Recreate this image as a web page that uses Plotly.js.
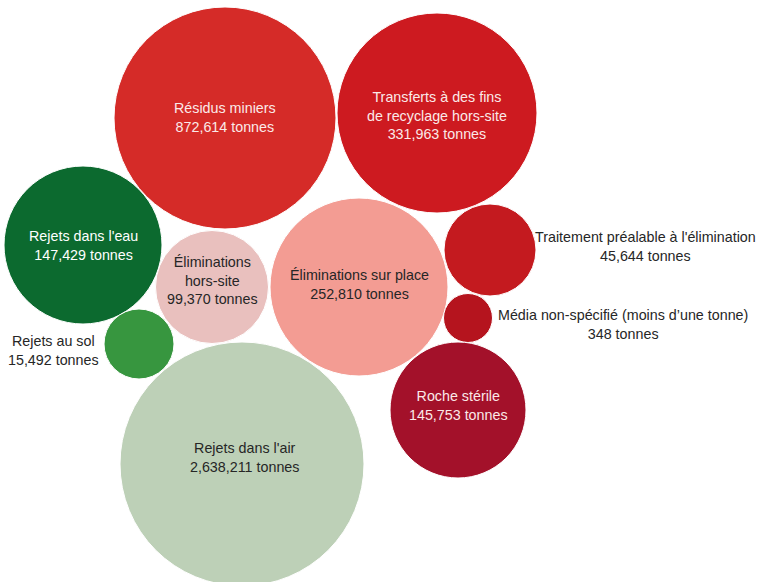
<!DOCTYPE html>
<html>
<head>
<meta charset="utf-8">
<script src="https://cdn.plot.ly/plotly-3.0.1.min.js"></script>
<style>html,body{margin:0;padding:0;background:#fff;}#chart{width:761px;height:582px;}</style>
</head>
<body>
<div id="chart"></div>
<script>
// Data
const labels = [
  "Résidus miniers",
  "Transferts à des fins<br>de recyclage hors-site",
  "Rejets dans l'eau",
  "Éliminations<br>hors-site",
  "Éliminations sur place",
  "Traitement préalable à l'élimination",
  "Média non-spécifié (moins d’une tonne)",
  "Roche stérile",
  "Rejets au sol",
  "Rejets dans l'air"
];
const tonnes = [872614, 331963, 147429, 99370, 252810, 45644, 348, 145753, 15492, 2638211];

// Layout of the bubbles (pixel-like coordinates)
const bubbleX = [225, 437, 83, 212, 359, 490, 468, 458, 139, 242];
const bubbleY = [118, 113, 245, 287, 287, 250, 318, 410, 344, 464];
const bubbleD = [222, 200, 158, 113, 178, 92, 49, 136, 70, 244];
const colors = ["#d52b28", "#cd1a20", "#0c6a2f", "#e9c0be", "#f39c93", "#c41a1f", "#b5141e", "#a3112a", "#37963f", "#bdd0b7"];
const labelX = [225, 437, 83, 212, 359, 645, 623, 458, 53, 244];
const labelY = [117, 115, 245, 280, 284, 246, 324, 405, 350, 457];
const labelColor = ["#fbe9e8", "#fbe9e8", "#ffffff", "#262626", "#262626", "#262626", "#262626", "#fbe9e8", "#262626", "#262626"];

const fmt = v => v.toLocaleString('en-US');

const trace = {
  type: 'scatter',
  mode: 'markers',
  x: bubbleX,
  y: bubbleY,
  marker: {
    size: bubbleD,
    sizemode: 'diameter',
    color: colors,
    opacity: 1,
    line: {color: '#ffffff', width: 1}
  },
  hoverinfo: 'skip',
  cliponaxis: false
};

const annotations = labels.map((l, i) => ({
  x: labelX[i],
  y: labelY[i],
  xref: 'x', yref: 'y',
  text: l + '<br>' + fmt(tonnes[i]) + ' tonnes',
  showarrow: false,
  align: 'center',
  font: {family: 'Liberation Sans, Arial, sans-serif', size: 14.3, color: labelColor[i]}
}));

const layout = {
  width: 761, height: 582,
  margin: {l: 0, r: 0, t: 0, b: 0},
  paper_bgcolor: '#ffffff',
  plot_bgcolor: '#ffffff',
  showlegend: false,
  xaxis: {range: [0, 761], visible: false, fixedrange: true},
  yaxis: {range: [582, 0], visible: false, fixedrange: true},
  annotations: annotations
};

Plotly.newPlot('chart', [trace], layout, {displayModeBar: false, staticPlot: true});
</script>
</body>
</html>
